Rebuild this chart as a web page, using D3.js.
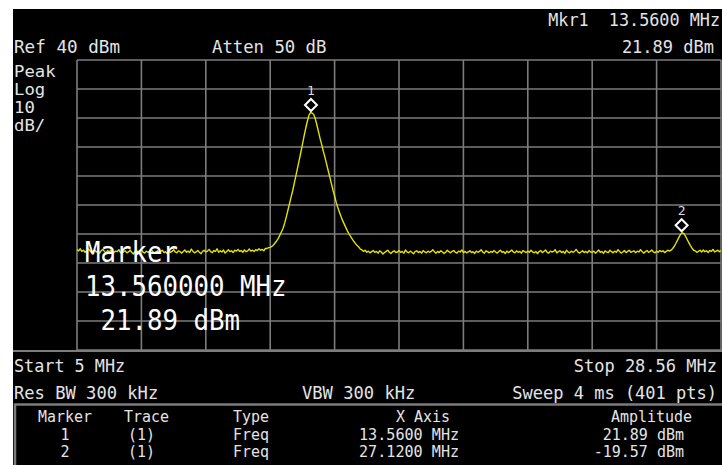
<!DOCTYPE html>
<html>
<head>
<meta charset="utf-8">
<script src="https://cdn.jsdelivr.net/npm/d3@7"></script>
<style>
	html, body { margin: 0; padding: 0; background: #fff; }
	svg { display: block; }
	text { font-family: "DejaVu Sans Mono", "Liberation Mono", monospace; }
</style>
</head>
<body>
<svg id="chart"></svg>
<script>

// sweep settings
let startMHz = 5;
let stopMHz = 28.56;
let refDbm = 40;
let dbPerDiv = 10;
let divisions = 10;

// trace, 401 pts, dBm
let traceDbm = [
	-25.4,-25.8,-25.1,-26.0,-25.6,-26.3,-25.9,-25.2,-25.7,-26.4,-26.1,-25.5,-26.2,-25.9,-26.6,-25.8,-25.3,-26.0,-26.5,-25.7,
	-26.2,-25.6,-26.8,-26.3,-25.9,-26.1,-25.4,-26.4,-26.7,-26.0,-25.8,-26.5,-26.2,-25.6,-26.3,-26.9,-26.1,-25.7,-26.4,-26.0,
	-25.5,-26.2,-26.6,-25.9,-26.3,-26.0,-25.3,-26.1,-26.5,-26.2,-25.8,-26.6,-26.0,-25.6,-26.4,-26.1,-26.7,-25.9,-26.3,-26.0,
	-25.4,-26.2,-26.5,-25.8,-26.1,-26.6,-26.0,-25.5,-26.3,-25.9,-26.4,-25.2,-26.0,-26.5,-26.2,-25.7,-26.3,-26.8,-26.0,-25.6,
	-26.2,-25.9,-25.3,-26.1,-26.4,-25.7,-26.0,-25.1,-26.3,-25.8,-26.2,-25.5,-26.6,-26.0,-25.4,-26.1,-25.8,-26.4,-25.6,-25.9,
	-25.3,-26.0,-25.7,-26.3,-25.5,-26.1,-25.8,-25.2,-25.9,-25.6,-26.0,-25.4,-25.7,-25.1,-25.6,-25.3,-25.8,-25.0,-25.0,-24.7,
	// peak 1
	-24.6,-24.3,-23.8,-23.1,-22.4,-21.5,-20.4,-19.2,-18.0,-16.2,-14.1,-11.8,-9.5,-7.2,-5.0,-2.4,0.2,2.8,5.4,8.1,
	10.8,13.7,16.3,18.7,20.8,21.89,21.7,21.2,19.8,17.6,15.2,12.9,10.8,8.5,6.4,4.2,1.9,-0.3,-2.6,-4.9,
	-6.9,-9.1,-10.9,-12.5,-14.0,-15.4,-16.6,-17.8,-19.0,-20.0,-20.9,-21.8,-22.6,-23.3,-24.0,-24.5,-25.2,-25.5,-26.0,-25.6,
	-26.3,
	// floor
	-25.9,-26.5,-26.1,-25.7,-26.3,-26.0,-26.6,-25.8,-26.2,-26.9,-26.4,-26.0,-25.6,-26.3,-26.7,-26.1,-25.8,-26.4,-26.2,-25.7,
	-26.3,-26.0,-26.6,-25.5,-26.2,-26.5,-25.9,-26.3,-26.8,-26.1,-25.8,-26.4,-26.0,-26.6,-25.7,-26.2,-26.5,-25.9,-26.3,-26.0,
	-25.4,-26.1,-26.6,-26.0,-26.4,-25.8,-26.2,-26.7,-26.3,-25.6,-26.1,-26.5,-26.0,-25.7,-26.3,-26.6,-25.9,-26.2,-25.5,-26.4,
	-26.0,-26.5,-26.2,-25.8,-26.4,-26.1,-26.7,-25.9,-26.3,-26.0,-25.4,-26.2,-26.6,-25.8,-26.1,-26.5,-26.0,-26.3,-25.7,-26.2,
	-26.6,-26.0,-25.6,-26.3,-26.1,-26.7,-25.9,-26.4,-26.0,-25.5,-26.2,-26.5,-25.8,-26.3,-26.0,-26.6,-25.7,-26.1,-26.4,-25.9,
	-26.3,-25.6,-26.2,-26.5,-26.0,-26.8,-26.1,-25.7,-26.4,-26.0,-25.5,-26.3,-26.6,-25.9,-26.2,-26.0,-25.4,-26.5,-26.1,-25.8,
	-26.4,-26.0,-26.7,-25.6,-26.2,-26.5,-25.9,-26.3,-26.0,-25.3,-26.1,-26.6,-26.2,-25.8,-26.4,-26.0,-26.5,-25.7,-26.2,-26.3,
	-25.9,-26.6,-26.1,-25.5,-26.3,-26.0,-26.7,-25.8,-26.2,-26.4,-25.6,-26.1,-26.5,-25.9,-26.3,-25.4,-26.0,-26.6,-26.2,-25.7,
	-26.4,-26.0,-25.6,-26.3,-26.1,-25.8,-26.5,-25.9,-26.2,-25.4,-26.0,-26.6,-26.1,-25.7,-26.3,-26.0,-25.5,-26.2,-26.5,-25.9,
	-26.3,-25.7,-26.1,-25.8,-26.4,-26.0,-25.6,-25.9,
	// peak 2
	-25.6,-25.0,-24.2,-23.2,-22.1,-21.0,-20.0,-19.57,-19.9,-20.8,-21.9,-23.0,-24.0,-24.9,-25.6,
	-25.8,-26.3,-26.0,-25.6,-26.2,-25.5,-26.1,-25.8,-26.4,-25.7,-26.0,-25.3,-26.2,-25.9,-25.6,-26.1,-25.7
];

// markers
let markerIds = ['1', '2'];
let markerTrace = ['(1)', '(1)'];
let markerType = ['Freq', 'Freq'];
let markerMHz = [13.56, 27.12];
let markerDbm = [21.89, -19.57];

// annotation texts
let topLeft = ['Ref 40 dBm', 'Atten 50 dB'];
let sideLabels = ['Peak', 'Log', '10', 'dB/'];
let activeMarker = ['Marker', '13.560000 MHz', ' 21.89 dBm'];
let tableHeads = ['Marker', 'Trace', 'Type', 'X Axis', 'Amplitude'];

let width = 722;
let height = 465;
let gx0 = 77, gx1 = 721, gy0 = 60, gy1 = 350;
let txt = '#e4e4e4';
let gridCol = '#7c7c7c';

let svg = d3.select('#chart')
	.attr('width', width)
	.attr('height', height);

svg.append('rect')
	.attr('x', 13)
	.attr('y', 9)
	.attr('width', width - 13)
	.attr('height', height - 9)
	.attr('fill', '#000');

let x = d3.scaleLinear().domain([startMHz, stopMHz]).range([gx0, gx1]);
let y = d3.scaleLinear().domain([refDbm - dbPerDiv * divisions, refDbm]).range([gy1, gy0]);

let step = (stopMHz - startMHz) / (traceDbm.length - 1);

// graticule
let grid = svg.append('g').attr('class', 'grid');

grid.selectAll('.vline')
	.data(d3.range(divisions + 1))
	.enter()
	.append('line')
	.attr('class', 'vline')
	.attr('x1', function(k) { return x(startMHz + k * (stopMHz - startMHz) / divisions) })
	.attr('x2', function(k) { return x(startMHz + k * (stopMHz - startMHz) / divisions) })
	.attr('y1', gy0)
	.attr('y2', gy1)
	.attr('stroke', gridCol)
	.attr('stroke-width', 1.6);

grid.selectAll('.hline')
	.data(d3.range(divisions + 1))
	.enter()
	.append('line')
	.attr('class', 'hline')
	.attr('x1', gx0)
	.attr('x2', gx1)
	.attr('y1', function(k) { return y(refDbm - k * dbPerDiv) })
	.attr('y2', function(k) { return y(refDbm - k * dbPerDiv) })
	.attr('stroke', gridCol)
	.attr('stroke-width', 1.6);

// separator under the graticule and the table box
svg.append('line')
	.attr('x1', 13).attr('x2', width)
	.attr('y1', 351).attr('y2', 351)
	.attr('stroke', gridCol)
	.attr('stroke-width', 2);

svg.append('rect')
	.attr('x', 15)
	.attr('y', 404.5)
	.attr('width', width)
	.attr('height', 80)
	.attr('fill', 'none')
	.attr('stroke', gridCol)
	.attr('stroke-width', 2.5);

// trace
let line = d3.line()
	.x(function(d, i) { return x(startMHz + i * step) })
	.y(function(d) { return y(d) });

svg.append('path')
	.datum(traceDbm)
	.attr('d', line)
	.attr('fill', 'none')
	.attr('stroke', '#e2e200')
	.attr('stroke-width', 1.4)
	.attr('stroke-linejoin', 'round');

// marker diamonds
let mk = svg.append('g').attr('class', 'markers')
	.selectAll('g')
	.data(markerIds)
	.enter()
	.append('g')
	.attr('transform', function(d, i) {
		return 'translate(' + x(markerMHz[i]) + ',' + (y(markerDbm[i]) - 7.5) + ')';
	});

mk.append('path')
	.attr('d', 'M0,-6L6,0L0,6L-6,0Z')
	.attr('fill', 'none')
	.attr('stroke', '#fff')
	.attr('stroke-width', 2);

mk.append('text')
	.attr('y', -10)
	.attr('text-anchor', 'middle')
	.attr('font-size', 13)
	.attr('fill', '#ddd')
	.text(function(d) { return d });

// helper for the instrument's fixed width font
function label(str, px, py, size, cw, anchor, fill) {
	let t = svg.append('text')
		.attr('x', px)
		.attr('y', py)
		.attr('font-size', size)
		.attr('fill', fill || txt)
		.attr('text-anchor', anchor || 'start')
		.attr('xml:space', 'preserve')
		.text(str);
	if (cw) {
		t.attr('textLength', str.length * cw).attr('lengthAdjust', 'spacingAndGlyphs');
	}
	return t;
}

// header
label('Mkr1  ' + markerMHz[0].toFixed(4) + ' MHz', 720, 26, 16.8, null, 'end');
label(markerDbm[0].toFixed(2) + ' dBm', 714, 53, 17, null, 'end');
label(topLeft[0], 14, 53, 18, 10.6);
label(topLeft[1], 212, 53, 18, 10.4);

sideLabels.forEach(function(s, i) {
	label(s, 14, 77 + i * 18, 15.5, 10.4);
});

// active marker readout
activeMarker.forEach(function(s, i) {
	label(s, 85, 262 + i * 34, 28, 15.5, 'start', '#fff');
});

// sweep info
label('Start ' + startMHz + ' MHz', 14, 372, 18, 10.1);
label('Stop ' + stopMHz + ' MHz', 717, 372, 17, null, 'end');
label('Res BW 300 kHz', 14, 399, 18, 10.3);
label('VBW 300 kHz', 302, 399, 18, 10.3);
label('Sweep 4 ms (' + traceDbm.length + ' pts)', 717, 399, 17, null, 'end');

// marker table
let headX = [38, 124, 233, 396, 611];
tableHeads.forEach(function(s, i) {
	label(s, headX[i], 422, 15, 9);
});

markerIds.forEach(function(id, i) {
	let by = 440 + i * 17;
	label(id, 65, by, 15, null, 'middle');
	label(markerTrace[i], 128, by, 15, 9);
	label(markerType[i], 233, by, 15, 9);
	label(markerMHz[i].toFixed(4) + ' MHz', 359, by, 15, 9.1);
	label(markerDbm[i].toFixed(2) + ' dBm', 684, by, 15, null, 'end');
});

</script>
</body>
</html>
